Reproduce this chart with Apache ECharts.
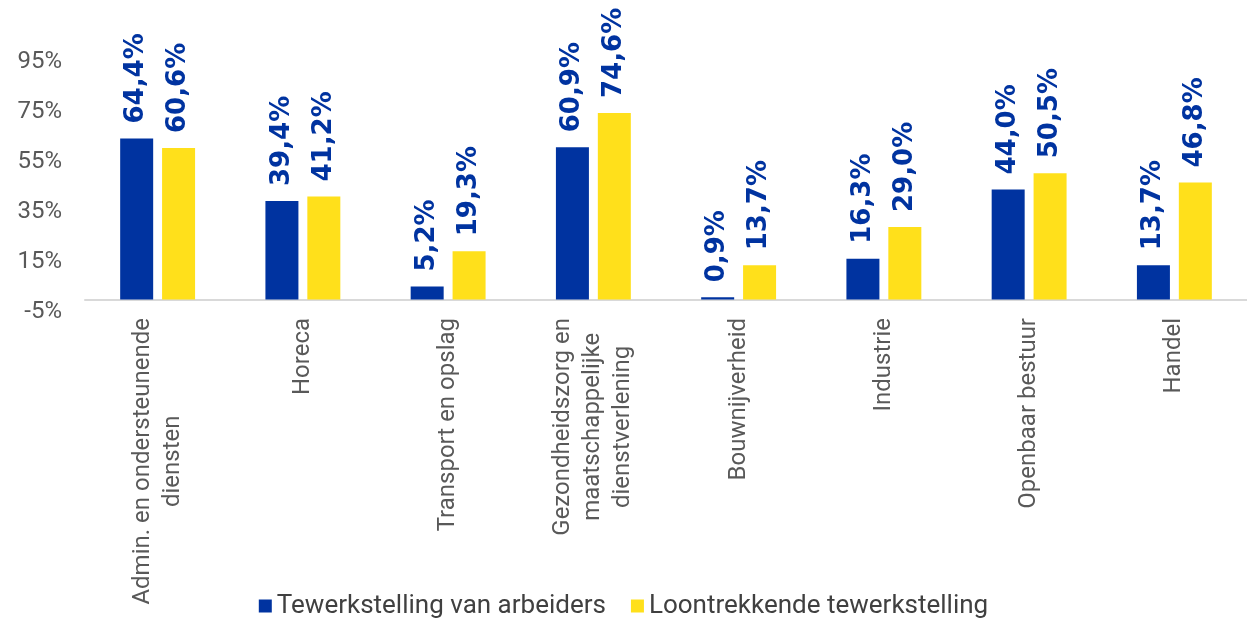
<!DOCTYPE html>
<html lang="nl">
<head>
    <meta charset="UTF-8">
    <title>Tewerkstelling per sector</title>
    <script src="https://cdn.jsdelivr.net/npm/echarts@6/dist/echarts.min.js"></script>
    <style>
        html, body { margin: 0; padding: 0; background: #ffffff; }
        #main { width: 1247px; height: 624px; }
    </style>
</head>
<body>
<div id="main"></div>
<script>
    // sectoren (\n = regelafbreking zoals in het origineel)
    var sectoren = [
        'Admin. en ondersteunende\ndiensten',
        'Horeca',
        'Transport en opslag',
        'Gezondheidszorg en\nmaatschappelijke\ndienstverlening',
        'Bouwnijverheid',
        'Industrie',
        'Openbaar bestuur',
        'Handel'
    ];
    var arbeiders = [64.4, 39.4, 5.2, 60.9, 0.9, 16.3, 44.0, 13.7];
    var loontrekkend = [60.6, 41.2, 19.3, 74.6, 13.7, 29.0, 50.5, 46.8];
    var reeksNamen = ['Tewerkstelling van arbeiders', 'Loontrekkende tewerkstelling'];

    var blauw = '#0033a0';
    var geel = '#ffe01b';
    var grijs = '#595959';

    function pct(v) {
        return v.toFixed(1).replace('.', ',') + '%';
    }

    var dataLabel = {
        show: true,
        position: 'top',
        rotate: 90,
        align: 'left',
        verticalAlign: 'middle',
        distance: 15,
        color: blauw,
        fontFamily: 'DejaVu Sans',
        fontWeight: 'bold',
        fontSize: 26,
        formatter: function (p) { return pct(p.value); }
    };

    var myChart = echarts.init(document.getElementById('main'));

    var option = {
        animation: false,
        textStyle: { fontFamily: 'Roboto' },
        grid: {
            left: 85,
            right: 0,
            top: 62,
            bottom: 312
        },
        legend: {
            data: reeksNamen,
            bottom: 0,
            left: 'center',
            itemWidth: 13,
            itemHeight: 13,
            itemGap: 25,
            icon: 'rect',
            textStyle: { color: '#404040', fontSize: 26, fontFamily: 'Roboto' }
        },
        xAxis: {
            type: 'category',
            data: sectoren,
            axisLine: { onZero: true, lineStyle: { color: '#d9d9d9', width: 2 } },
            axisTick: { show: false },
            axisLabel: {
                interval: 0,
                rotate: 90,
                margin: 6,
                formatter: function (v) {
                    return v.split('\n').map(function (s) { return '{c|' + s + '}'; }).join('\n');
                },
                rich: {
                    c: {
                        align: 'center',
                        color: grijs,
                        fontSize: 24,
                        lineHeight: 30,
                        fontFamily: 'Roboto'
                    }
                }
            }
        },
        yAxis: {
            type: 'value',
            min: -5,
            max: 95,
            interval: 20,
            axisLine: { show: false },
            axisTick: { show: false },
            splitLine: { show: false },
            axisLabel: {
                formatter: '{value}%',
                color: grijs,
                fontSize: 24,
                margin: 23,
                fontFamily: 'Roboto'
            }
        },
        series: [
            {
                name: reeksNamen[0],
                type: 'bar',
                data: arbeiders,
                barWidth: 33,
                barGap: '27%',
                itemStyle: { color: blauw },
                label: dataLabel
            },
            {
                name: reeksNamen[1],
                type: 'bar',
                data: loontrekkend,
                barWidth: 33,
                barGap: '27%',
                itemStyle: { color: geel },
                label: dataLabel
            }
        ]
    };

    myChart.setOption(option);
</script>
</body>
</html>
